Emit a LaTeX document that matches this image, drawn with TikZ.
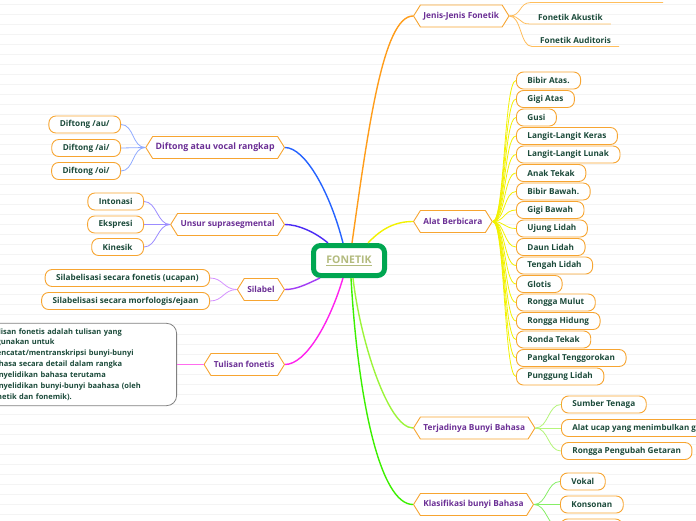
\documentclass[tikz,border=0pt]{standalone}
\usepackage{fontspec}
\setmainfont{Open Sans}
\usetikzlibrary{shapes.symbols}
\definecolor{hexborder}{HTML}{F7A531}
\definecolor{hextext}{HTML}{6B2F95}
\definecolor{leaftext}{HTML}{1B4A3A}
\definecolor{fongreen}{HTML}{00A651}
\definecolor{fontext}{HTML}{B3BB7E}
\definecolor{bgline}{HTML}{F4F4F4}
\definecolor{cJen}{HTML}{FF9D1A}
\definecolor{cJenC}{HTML}{FFBE5C}
\definecolor{cAlat}{HTML}{F2F200}
\definecolor{cTer}{HTML}{9CF53A}
\definecolor{cTerC}{HTML}{B5F57A}
\definecolor{cKla}{HTML}{3CF000}
\definecolor{cKlaC}{HTML}{86EE66}
\definecolor{cDif}{HTML}{2563FF}
\definecolor{cDifC}{HTML}{8FAAFF}
\definecolor{cUns}{HTML}{4A2AF5}
\definecolor{cUnsC}{HTML}{9C8CFF}
\definecolor{cSil}{HTML}{A23CF5}
\definecolor{cSilC}{HTML}{D592FF}
\definecolor{cTul}{HTML}{FF22EE}
\definecolor{cTulC}{HTML}{FF6CEE}
\definecolor{boxgray}{HTML}{808080}
\begin{document}
\begin{tikzpicture}[x=1pt,y=-1pt,
  hexnode/.style={signal, signal to=west and east, signal pointer angle=116,
    draw=hexborder, line width=0.9pt, fill=white, text=hextext,
    font=\bfseries\fontsize{8.3}{10}\selectfont, minimum height=22pt,
    inner xsep=3pt, inner ysep=0pt},
  leaf/.style={draw=hexborder, rounded corners=7pt, line width=0.9pt, fill=white,
    text=leaftext, font=\bfseries\fontsize{8.2}{10}\selectfont,
    minimum height=17pt, inner xsep=11pt, inner ysep=0pt},
  rleaf/.style={leaf, anchor=west},
  lleaf/.style={leaf, anchor=east},
  mainline/.style={line width=1.4pt},
  childline/.style={line width=0.8pt},
  ulleaf/.style={anchor=south west, inner xsep=8pt, inner ysep=3pt, text=leaftext,
    font=\bfseries\fontsize{8.2}{10}\selectfont}
]
\useasboundingbox (0,0) rectangle (696,520);
\clip (0,0) rectangle (696,520);
\fill[white] (0,0) rectangle (696,520);
\foreach \yy in {4.3,14.3,...,520} \draw[bgline, line width=0.5pt] (0,\yy) -- (696,\yy);

% central node
\node[draw=fongreen, line width=5pt, rounded corners=7pt, fill=white,
  minimum width=71pt, minimum height=30pt, text=fontext,
  font=\bfseries\fontsize{10.5}{12}\selectfont] (fon) at (349,260.5) {\underline{FONETIK}};

% main branch nodes
\node[hexnode, anchor=west] (jen) at (413,16) {Jenis-Jenis Fonetik};
\node[hexnode, anchor=west] (alat) at (413,221.5) {Alat Berbicara};
\node[hexnode, anchor=west] (ter) at (413,428) {Terjadinya Bunyi Bahasa};
\node[hexnode, anchor=west] (kla) at (413,504.5) {Klasifikasi bunyi Bahasa};
\node[hexnode, anchor=east, font=\bfseries\fontsize{8.8}{10}\selectfont] (dif) at (285,147.5) {Diftong atau vocal rangkap};
\node[hexnode, anchor=east] (uns) at (285,224.5) {Unsur suprasegmental};
\node[hexnode, anchor=east] (sil) at (285,289.5) {Silabel};
\node[hexnode, anchor=east] (tul) at (285,364.5) {Tulisan fonetis};

% main connectors
\draw[mainline, cJen] ([xshift=3pt]fon.north) .. controls (368,130) and (383,16) .. (jen.west);
\draw[mainline, cAlat] ([xshift=19pt]fon.north) .. controls (382,228) and (396,221.5) .. (alat.west);
\draw[mainline, cTer] ([xshift=4pt]fon.south) .. controls (360,340) and (388,428) .. (ter.west);
\draw[mainline, cKla] ([xshift=2pt]fon.south) .. controls (358,400) and (380,504.5) .. (kla.west);
\draw[mainline, cDif] ([xshift=-6pt]fon.north) .. controls (330,192) and (305,147.5) .. (dif.east);
\draw[mainline, cUns] ([xshift=-21pt]fon.north) .. controls (315,232) and (298,224.5) .. (uns.east);
\draw[mainline, cSil] ([xshift=9pt]fon.south west) .. controls (305,285) and (296,289.5) .. (sil.east);
\draw[mainline, cTul] ([xshift=-6pt]fon.south) .. controls (330,322) and (306,364.5) .. (tul.east);

% Jenis-Jenis Fonetik children
\coordinate (j1) at (531,2.5);
\coordinate (j1e) at (663,2.5);
\node[ulleaf] (j2) at (530,24) {Fonetik Akustik};
\node[ulleaf] (j3) at (532,46.5) {Fonetik Auditoris};
\draw[childline, cJenC] (jen.east) .. controls +(12,0) and +(-12,0) .. (j1) -- (j1e);
\draw[childline, cJenC] (jen.east) .. controls +(12,0) and +(-12,0) .. (j2.south west) -- (j2.south east);
\draw[childline, cJenC] (jen.east) .. controls +(12,0) and +(-12,0) .. (j3.south west) -- (j3.south east);

% Alat Berbicara children
\foreach \nm/\txt [count=\i from 0] in {a1/Bibir Atas., a2/Gigi Atas, a3/Gusi,
  a4/Langit-Langit Keras, a5/Langit-Langit Lunak, a6/Anak Tekak, a7/Bibir Bawah.,
  a8/Gigi Bawah, a9/Ujung Lidah, a10/Daun Lidah, a11/Tengah Lidah, a12/Glotis,
  a13/Rongga Mulut, a14/Rongga Hidung, a15/Ronda Tekak, a16/Pangkal Tenggorokan,
  a17/Punggung Lidah} {
  \node[rleaf] (\nm) at (516,80.5+18.5*\i) {\txt};
}
\foreach \nm in {a1,a2,a3,a4,a5,a6,a7,a8,a9,a10,a11,a12,a13,a14,a15,a16,a17}
  \draw[childline, cAlat] (alat.east) .. controls +(12,0) and +(-12,0) .. (\nm.west);

% Terjadinya children
\node[rleaf] (t1) at (561,404.5) {Sumber Tenaga};
\node[rleaf, font=\bfseries\fontsize{8}{10}\selectfont] (t2) at (561,428) {Alat ucap yang menimbulkan getaran};
\node[rleaf] (t3) at (561,451) {Rongga Pengubah Getaran};
\foreach \nm in {t1,t2,t3}
  \draw[childline, cTerC] (ter.east) .. controls +(13,0) and +(-13,0) .. (\nm.west);

% Klasifikasi children
\node[rleaf] (k1) at (560,481.5) {Vokal};
\node[rleaf] (k2) at (560,504.5) {Konsonan};
\node[rleaf, minimum width=62pt] (k3) at (560,527.5) {};
\foreach \nm in {k1,k2,k3}
  \draw[childline, cKlaC] (kla.east) .. controls +(13,0) and +(-13,0) .. (\nm.west);

% Diftong children
\node[lleaf] (d1) at (121,124.5) {Diftong /au/};
\node[lleaf] (d2) at (121,148) {Diftong /ai/};
\node[lleaf] (d3) at (121,171) {Diftong /oi/};
\foreach \nm in {d1,d2,d3}
  \draw[childline, cDifC] (dif.west) .. controls +(-13,0) and +(13,0) .. (\nm.east);

% Unsur children
\node[lleaf] (u1) at (144,201.5) {Intonasi};
\node[lleaf] (u2) at (144,224.5) {Ekspresi};
\node[lleaf] (u3) at (144,247) {Kinesik};
\foreach \nm in {u1,u2,u3}
  \draw[childline, cUnsC] (uns.west) .. controls +(-13,0) and +(13,0) .. (\nm.east);

% Silabel children
\node[lleaf] (s1) at (210,278) {Silabelisasi secara fonetis (ucapan)};
\node[lleaf] (s2) at (210,301) {Silabelisasi secara morfologis/ejaan};
\foreach \nm in {s1,s2}
  \draw[childline, cSilC] (sil.west) .. controls +(-13,0) and +(13,0) .. (\nm.east);

% Tulisan fonetis child
\node[draw=boxgray, rounded corners=10pt, line width=0.8pt, fill=white,
  anchor=east, text=leaftext, font=\bfseries\fontsize{7.5}{10.9}\selectfont,
  align=left, text width=178pt, inner xsep=9pt, inner ysep=5pt] (tb) at (177,364.5)
  {Tulisan fonetis adalah tulisan yang\\
   digunakan untuk\\
   mencatat/mentranskripsi bunyi-bunyi\\
   bahasa secara detail dalam rangka\\
   penyelidikan bahasa terutama\\
   penyelidikan bunyi-bunyi baahasa (oleh\\
   fonetik dan fonemik).};
\draw[childline, cTulC] (tul.west) -- (tb.east);
\end{tikzpicture}
\end{document}
